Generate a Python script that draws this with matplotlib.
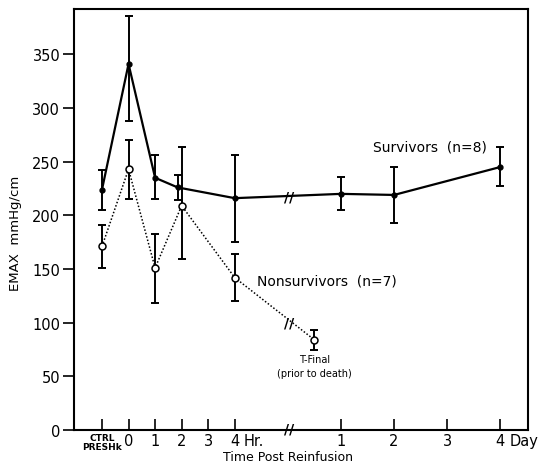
import matplotlib
matplotlib.use("Agg")
import matplotlib.pyplot as plt
import matplotlib.transforms as mtransforms

plt.rcParams["font.family"] = ["DejaVu Sans"]

# Time points (hours, then days after a break)
surv_times = ["CTRL", "0h", "1h", "2h", "4h", "1d", "2d", "4d"]
surv_mean = [224, 341, 235, 226, 216, 220, 219, 245]
surv_low = [205, 288, 215, 214, 175, 205, 193, 227]
surv_high = [242, 386, 256, 238, 256, 236, 245, 264]

non_times = ["CTRL", "0h", "1h", "2h", "4h", "final"]
non_mean = [171, 243, 151, 209, 142, 84]
non_low = [151, 215, 118, 159, 120, 75]
non_high = [191, 270, 183, 264, 164, 93]

tick_labels = ["CTRL\nPRESHk", "0", "1", "2", "3", "4", "1", "2", "3", "4"]
tick_times = ["CTRL", "0h", "1h", "2h", "3h", "4h", "1d", "2d", "3d", "4d"]

# axis position of each time point (hour scale, days compressed after break)
pos = {"CTRL": -1, "0h": 0, "1h": 1, "2h": 2, "3h": 3, "4h": 4,
       "1d": 8, "2d": 10, "3d": 12, "4d": 14, "final": 7}
brk = 6.05
dodge = {"2h": -0.15}

fig = plt.figure(figsize=(5.49, 4.64), dpi=100)
ax = fig.add_axes([0.135, 0.071, 0.827, 0.907])

sx = [pos[t] + dodge.get(t, 0) for t in surv_times]
nx = [pos[t] for t in non_times]

ax.plot(sx, surv_mean, color="black", lw=1.6, marker="o", ms=3.5,
        mfc="black", zorder=3)
ax.errorbar(sx, surv_mean,
            yerr=[[m - l for m, l in zip(surv_mean, surv_low)],
                  [h - m for m, h in zip(surv_mean, surv_high)]],
            fmt="none", ecolor="black", elinewidth=1.4, capsize=3,
            capthick=1.4, zorder=2)

ax.plot(nx, non_mean, color="black", lw=1.1, ls=(0, (1, 1.3)), marker="o",
        ms=5, mfc="white", mec="black", mew=1.1, zorder=4)
ax.errorbar(nx, non_mean,
            yerr=[[m - l for m, l in zip(non_mean, non_low)],
                  [h - m for m, h in zip(non_mean, non_high)]],
            fmt="none", ecolor="black", elinewidth=1.4, capsize=3,
            capthick=1.4, zorder=2)

# break marks
ax.text(brk, 218, "//", ha="center", va="center", fontsize=10,
        fontweight="bold", zorder=5)
ax.text(brk, 100, "//", ha="center", va="center", fontsize=10,
        fontweight="bold", zorder=5)
ax.text(brk, 1, "//", ha="center", va="center", fontsize=10,
        fontweight="bold", zorder=5)

# labels
ax.text(9.2, 264, "Survivors  (n=8)", fontsize=10, va="center")
ax.text(4.85, 139, "Nonsurvivors  (n=7)", fontsize=10, va="center")
ax.text(pos["final"], 66, "T-Final", fontsize=7, ha="center", va="center")
ax.text(pos["final"], 53, "(prior to death)", fontsize=7, ha="center",
        va="center")

ax.set_xlim(-2.05, 15.05)
ax.set_ylim(0, 392)
ax.set_yticks([0, 50, 100, 150, 200, 250, 300, 350])
ax.set_xticks([pos[t] for t in tick_times])
ax.set_xticklabels(tick_labels)

ax.tick_params(axis="y", direction="out", length=8, width=1.2,
               labelsize=10.5, pad=2)
ax.tick_params(axis="x", direction="in", length=8, width=1.2,
               labelsize=10.5, pad=2)
ctrl = ax.get_xticklabels()[0]
ctrl.set_fontsize(6.5)
ctrl.set_fontweight("bold")
ctrl.set_linespacing(1.0)

trans = mtransforms.blended_transform_factory(ax.transData, ax.transAxes)
ax.text(pos["4h"] + 0.35, -0.025, "Hr.", transform=trans, fontsize=10.5,
        va="center", ha="left")
ax.text(pos["4d"] + 0.35, -0.025, "Day", transform=trans, fontsize=10.5,
        va="center", ha="left")

for sp in ax.spines.values():
    sp.set_linewidth(1.5)

ax.set_ylabel("EMAX  mmHg/cm", fontsize=9.5, labelpad=3)
ax.yaxis.set_label_coords(-0.115, 0.47)
ax.set_xlabel("Time Post Reinfusion", fontsize=9, va="center")
ax.xaxis.set_label_coords(0.47, -0.063)

fig.savefig("out.png", dpi=100)
